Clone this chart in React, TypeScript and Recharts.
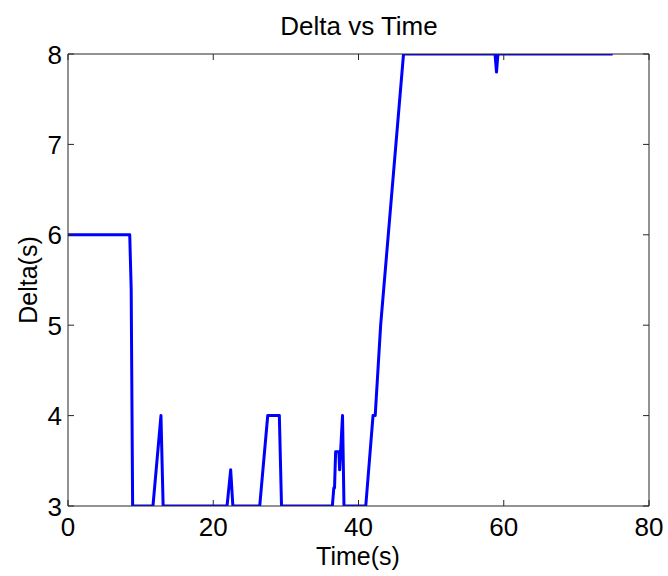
import { LineChart, Line, XAxis, YAxis } from 'recharts'

const times = [0, 8.5, 8.7, 8.9, 11.7, 12.8, 13.1, 21.9, 22.4, 22.7, 26.4, 27.5, 29.1, 29.4, 36.4, 36.6, 36.7, 36.85, 37.3, 37.4, 37.8, 38.0, 41.0, 42.0, 42.3, 43.05, 46.2, 58.8, 59.0, 59.2, 75]
const deltas = [6, 6, 5.4, 3, 3, 4, 3, 3, 3.4, 3, 3, 4, 4, 3, 3, 3.2, 3.2, 3.6, 3.6, 3.4, 4, 3, 3, 4, 4, 5, 8, 8, 7.8, 8, 8]
const xTicks = [0, 20, 40, 60, 80]
const yTicks = [3, 4, 5, 6, 7, 8]

const data = times.map((t, i) => ({ t, d: deltas[i] }))

const FONT = '"Liberation Sans", Arial, sans-serif'
const FS = 26
const TICK = 6
const AX = '#262626'

// matlab-style ticks: short line pointing into the box, label outside
const BottomTick = ({ x, y, payload }: any) => (
  <g>
    <line x1={x} x2={x} y1={y} y2={y - TICK} stroke={AX} />
    <text x={x} y={y + 30} textAnchor="middle" fontSize={FS} fontFamily={FONT} fill="#000">
      {payload.value}
    </text>
  </g>
)
const TopTick = ({ x, y }: any) => <line x1={x} x2={x} y1={y} y2={y + TICK} stroke={AX} />
const LeftTick = ({ x, y, payload }: any) => (
  <g>
    <line x1={x} x2={x + TICK} y1={y} y2={y} stroke={AX} />
    <text x={x - 6} y={y + 9.5} textAnchor="end" fontSize={FS} fontFamily={FONT} fill="#000">
      {payload.value}
    </text>
  </g>
)
const RightTick = ({ x, y }: any) => <line x1={x} x2={x - TICK} y1={y} y2={y} stroke={AX} />

export default function App() {
  return (
    <div style={{ position: 'absolute', left: 0, top: 0, width: 668, height: 576, background: '#fff' }}>
      <LineChart width={668} height={576} data={data} margin={{ top: 53, right: 18, bottom: 40, left: 8 }}>
        <XAxis
          dataKey="t" type="number" domain={[0, 80]} ticks={xTicks} height={30}
          tickSize={0} tickMargin={0} tickLine={false} tick={<BottomTick />}
          axisLine={{ stroke: AX }} allowDataOverflow
        />
        <XAxis
          xAxisId="top" orientation="top" dataKey="t" type="number" domain={[0, 80]} ticks={xTicks} height={1}
          tickSize={0} tickMargin={0} tickLine={false} tick={<TopTick />}
          axisLine={{ stroke: AX }} allowDataOverflow
        />
        <YAxis
          type="number" domain={[3, 8]} ticks={yTicks} width={60}
          tickSize={0} tickMargin={0} tickLine={false} tick={<LeftTick />}
          axisLine={{ stroke: AX }} allowDataOverflow
        />
        <YAxis
          yAxisId="right" orientation="right" type="number" domain={[3, 8]} ticks={yTicks} width={1}
          tickSize={0} tickMargin={0} tickLine={false} tick={<RightTick />}
          axisLine={{ stroke: AX }} allowDataOverflow
        />
        {/* invisible copy so the top/right axes have a series */}
        <Line
          xAxisId="top" yAxisId="right" dataKey="d" stroke="none" dot={false}
          isAnimationActive={false} legendType="none"
        />
        <Line
          dataKey="d" stroke="#0000ff" strokeWidth={3} dot={false}
          strokeLinejoin="round" isAnimationActive={false}
        />
      </LineChart>
      <svg width={668} height={576} style={{ position: 'absolute', left: 0, top: 0, pointerEvents: 'none' }}>
        <text x={359} y={35} textAnchor="middle" fontSize={FS} fontFamily={FONT}>Delta vs Time</text>
        <text x={358} y={565} textAnchor="middle" fontSize={25} fontFamily={FONT}>Time(s)</text>
        <text x={37} y={280} textAnchor="middle" fontSize={25} fontFamily={FONT} transform="rotate(-90 37 280)">
          Delta(s)
        </text>
      </svg>
    </div>
  )
}
